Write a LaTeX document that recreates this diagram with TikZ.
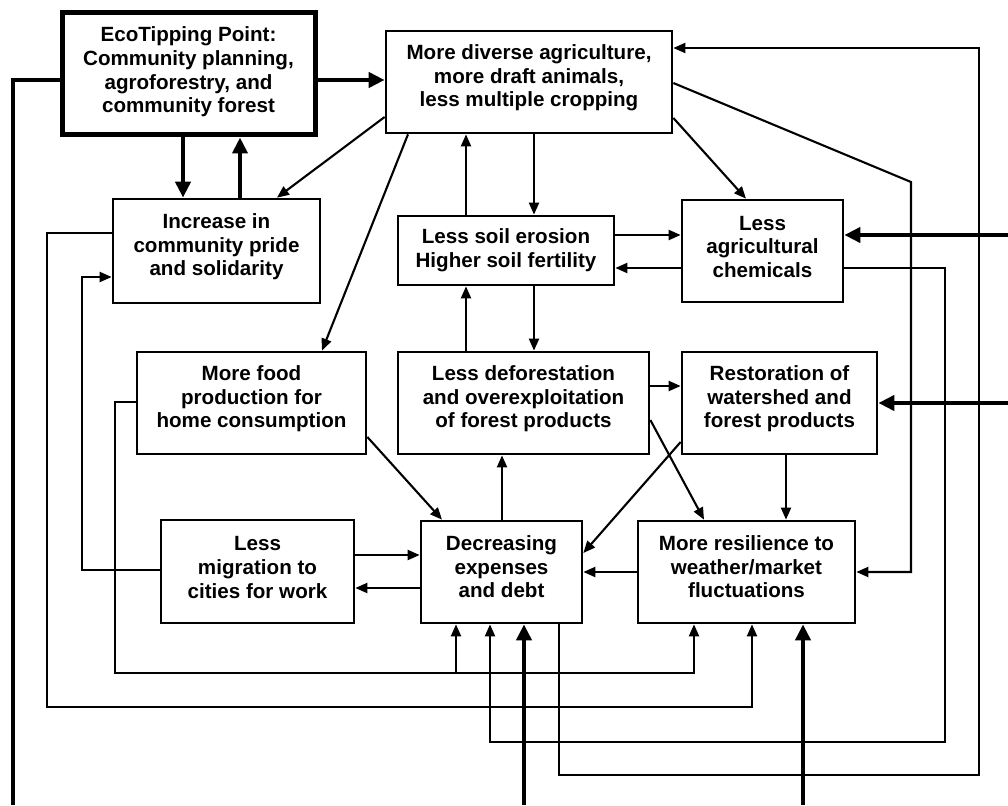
\documentclass[tikz,border=0pt]{standalone}
\usepackage{fontspec}
\setmainfont{Liberation Sans}
\usetikzlibrary{arrows.meta,fit}
\begin{document}
\begin{tikzpicture}[x=1pt,y=-1pt,
  box/.style={draw, line width=2.7pt, rectangle, inner sep=0pt},
  ecobox/.style={draw, line width=5pt, rectangle, inner sep=0pt},
  txt/.style={font=\bfseries\fontsize{20.6}{23.6}\selectfont, align=center, inner sep=0pt},
  con/.style={line width=2.1pt, -{Triangle[length=12pt,width=10pt]}},
  bigcon/.style={line width=4.6pt, -{Triangle[length=16pt,width=15pt]}},
  bigline/.style={line width=4.6pt}
]
\fill[white] (0,0) rectangle (1008,805);
\useasboundingbox (0,0) rectangle (1008,805);

% boxes
\node[ecobox, fit={(62,13) (315,135)}] (eco) {};
\node[box, fit={(386,31) (672,133)}] (div) {};
\node[box, fit={(113,199) (320,303)}] (inc) {};
\node[box, fit={(398,216) (614,285)}] (soil) {};
\node[box, fit={(682,200) (843,302)}] (agri) {};
\node[box, fit={(137,352) (366,454)}] (food) {};
\node[box, fit={(398,352) (649,454)}] (defo) {};
\node[box, fit={(682,352) (877,454)}] (rest) {};
\node[box, fit={(161,520) (354,623)}] (mig) {};
\node[box, fit={(421,521) (582,623)}] (dec) {};
\node[box, fit={(638,521) (855,623)}] (res) {};

% texts
\node[txt, yshift=2pt] (ecot) at (eco.center) {EcoTipping Point:\\Community planning,\\agroforestry, and\\community forest};
\node[txt, yshift=4pt] (divt) at (div.center) {More diverse agriculture,\\more draft animals,\\less multiple cropping};
\node[txt, yshift=4pt] (inct) at (inc.center) {Increase in\\community pride\\and solidarity};
\node[txt, yshift=0pt] (soilt) at (soil.center) {Less soil erosion\\Higher soil fertility};
\node[txt, yshift=4pt] (agrit) at (agri.center) {Less\\agricultural\\chemicals};
\node[txt, yshift=4pt] (foodt) at (food.center) {More food\\production for\\home consumption};
\node[txt, yshift=4pt] (defot) at (defo.center) {Less deforestation\\and overexploitation\\of forest products};
\node[txt, yshift=4pt] (restt) at (rest.center) {Restoration of\\watershed and\\forest products};
\node[txt, yshift=4pt] (migt) at (mig.center) {Less\\migration to\\cities for work};
\node[txt, yshift=5pt] (dect) at (dec.center) {Decreasing\\expenses\\and debt};
\node[txt, yshift=5pt] (rest2) at (res.center) {More resilience to\\weather/market\\fluctuations};

% external ends
\coordinate (outL) at (13,805);
\coordinate (inA) at (1008,235);
\coordinate (inB) at (1008,403);
\coordinate (inC) at (524,805);
\coordinate (inD) at (803,805);

% thick connectors
\draw[bigcon] (eco.east |- 0,80) -- (div.west |- 0,80);
\draw[bigline] (eco.west |- 0,80) -| (outL);
\draw[bigcon] (eco.south -| 183,0) -- (inc.north -| 183,0);
\draw[bigcon] (inc.north -| 240,0) -- (eco.south -| 240,0);
\draw[bigcon] (inA) -- (agri.east |- inA);
\draw[bigcon] (inB) -- (rest.east |- inB);
\draw[bigcon] (inC) -- (dec.south -| inC);
\draw[bigcon] (inD) -- (res.south -| inD);

% thin connectors
\draw[con] (div.west |- 0,117) -- (inc.north -| 277,0);
\draw[con] (div.south -| 408,0) -- (food.north -| 322,0);
\draw[con] (div.south -| 534,0) -- (soil.north -| 534,0);
\draw[con] (soil.north -| 466,0) -- (div.south -| 466,0);
\draw[con] (div.east |- 0,118) -- (agri.north -| 746,0);
\draw[con] (div.east |- 0,83) -- (911,182) |- (res.east |- 0,572);
\draw[con] (dec.south -| 559,0) |- (979,775) |- (div.east |- 0,48);
\draw[con] (soil.east |- 0,235) -- (agri.west |- 0,235);
\draw[con] (agri.west |- 0,268) -- (soil.east |- 0,268);
\draw[con] (defo.north -| 466,0) -- (soil.south -| 466,0);
\draw[con] (soil.south -| 534,0) -- (defo.north -| 534,0);
\draw[con] (agri.east |- 0,268) -| (945,742) -| (dec.south -| 490,0);
\draw[con] (inc.west |- 0,233) -| (47,707) -| (res.south -| 752,0);
\draw[con] (mig.west |- 0,570) -| (82,277) -- (inc.west |- 0,277);
\draw[con] (food.west |- 0,402) -| (115,673) -| (res.south -| 694,0);
\draw[con] (456,673) -- (dec.south -| 456,0);
\draw[con] (food.east |- 0,437) -- (dec.north -| 442,0);
\draw[con] (mig.east |- 0,555) -- (dec.west |- 0,555);
\draw[con] (dec.west |- 0,588) -- (mig.east |- 0,588);
\draw[con] (dec.north -| 502,0) -- (defo.south -| 502,0);
\draw[con] (defo.east |- 0,386) -- (rest.west |- 0,386);
\draw[con] (defo.east |- 0,420) -- (res.north -| 704,0);
\draw[con] (rest.west |- 0,442) -- (dec.east |- 0,553);
\draw[con] (rest.south -| 786,0) -- (res.north -| 786,0);
\draw[con] (res.west |- 0,572) -- (dec.east |- 0,572);
\end{tikzpicture}
\end{document}
